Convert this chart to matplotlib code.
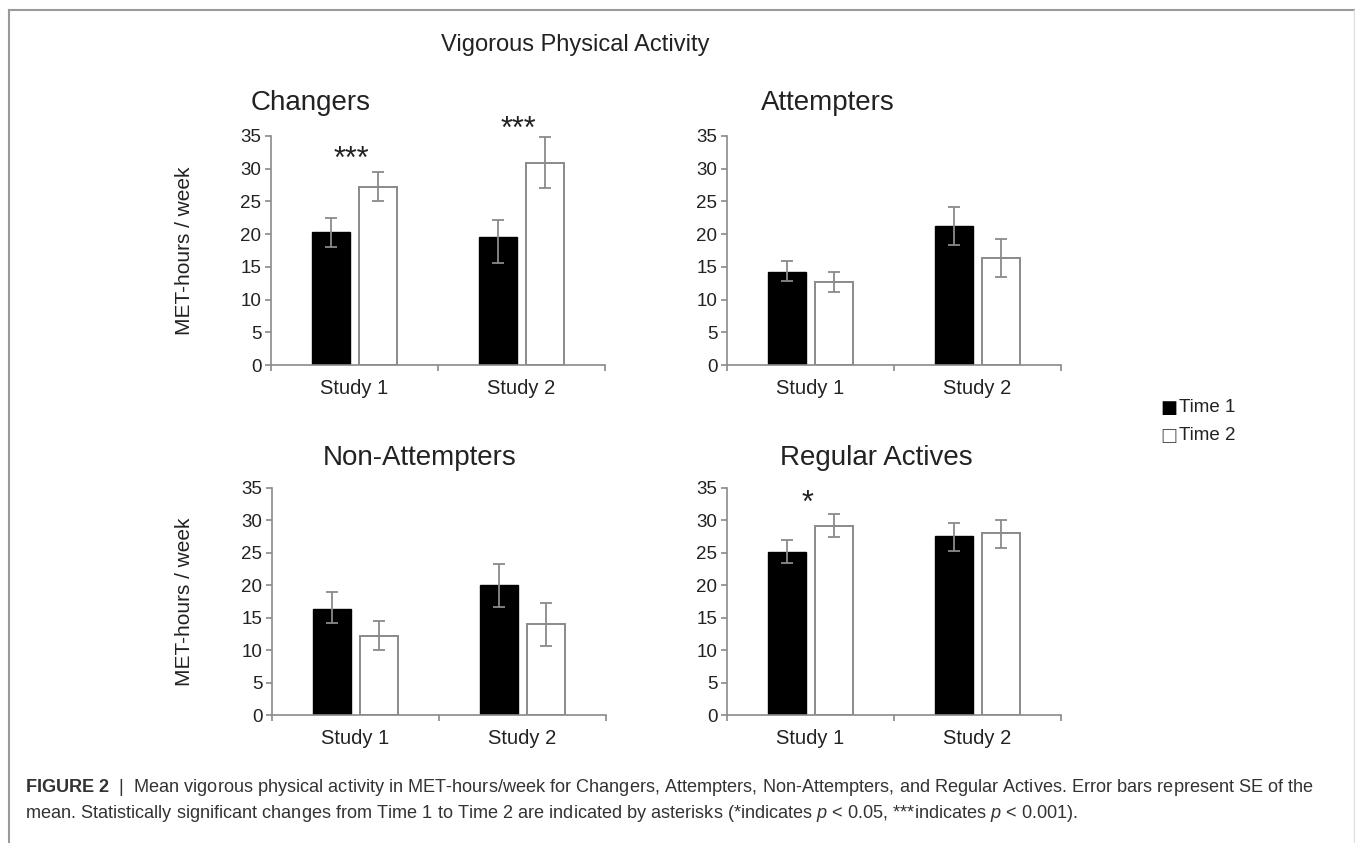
import matplotlib
matplotlib.use("Agg")
import matplotlib.pyplot as plt
from matplotlib.lines import Line2D
import numpy as np

plt.rcParams['font.family'] = ['Liberation Sans', 'DejaVu Sans']
plt.rcParams['mathtext.fontset'] = 'custom'
plt.rcParams['mathtext.rm'] = 'Liberation Sans'
plt.rcParams['mathtext.it'] = 'Liberation Sans:italic'
plt.rcParams['mathtext.bf'] = 'Liberation Sans:bold'

# ---------------- data ----------------
studies = ["Study 1", "Study 2"]
groups = ["Changers", "Attempters", "Non-Attempters", "Regular Actives"]
series_names = ["Time 1", "Time 2"]

changers_t1 = [20.3, 19.5]
changers_t1_err_hi = [22.5, 22.2]
changers_t1_err_lo = [18.0, 15.6]
changers_t2 = [27.25, 30.9]
changers_t2_err_hi = [29.5, 34.9]
changers_t2_err_lo = [25.0, 27.0]

attempters_t1 = [14.25, 21.2]
attempters_t1_err_hi = [15.9, 24.15]
attempters_t1_err_lo = [12.8, 18.3]
attempters_t2 = [12.7, 16.35]
attempters_t2_err_hi = [14.2, 19.2]
attempters_t2_err_lo = [11.2, 13.5]

nonatt_t1 = [16.4, 20.0]
nonatt_t1_err_hi = [18.9, 23.3]
nonatt_t1_err_lo = [14.2, 16.6]
nonatt_t2 = [12.15, 14.0]
nonatt_t2_err_hi = [14.45, 17.3]
nonatt_t2_err_lo = [10.0, 10.7]

regular_t1 = [25.2, 27.6]
regular_t1_err_hi = [27.0, 29.6]
regular_t1_err_lo = [23.5, 25.35]
regular_t2 = [29.1, 28.0]
regular_t2_err_hi = [31.0, 30.1]
regular_t2_err_lo = [27.4, 25.7]

# significance markers: (study index, label, y position of marker)
changers_sig = [(0, "***", 31.3), (1, "***", 35.9)]
attempters_sig = []
nonatt_sig = []
regular_sig = [(0, "*", 32.6)]

yticks = [0, 5, 10, 15, 20, 25, 30, 35]

main_title = "Vigorous Physical Activity"
ylabel = "MET-hours / week"
caption1 = (r"$\bf{FIGURE\ 2}$  |  Mean vigorous physical activity in MET-hours/week for Changers, "
            r"Attempters, Non-Attempters, and Regular Actives. Error bars represent SE of the")
caption2 = (r"mean. Statistically significant changes from Time 1 to Time 2 are indicated by asterisks "
            r"(*indicates $\it{p}$ < 0.05, ***indicates $\it{p}$ < 0.001).")

# ---------------- figure ----------------
W, H = 1355, 843
fig = plt.figure(figsize=(W / 100, H / 100), dpi=100)
fig.patch.set_facecolor("white")


def px_axes(x0, y0, x1, y1):
    return fig.add_axes([x0 / W, 1 - y1 / H, (x1 - x0) / W, (y1 - y0) / H])


GRAY = "#8a8a8a"
panels = [
    ("Changers", (271, 136, 605, 365), changers_t1, changers_t1_err_lo, changers_t1_err_hi,
     changers_t2, changers_t2_err_lo, changers_t2_err_hi, changers_sig, (311, 103), 185),
    ("Attempters", (727, 136, 1061, 365), attempters_t1, attempters_t1_err_lo, attempters_t1_err_hi,
     attempters_t2, attempters_t2_err_lo, attempters_t2_err_hi, attempters_sig, (828, 103), None),
    ("Non-Attempters", (272, 488, 606, 715), nonatt_t1, nonatt_t1_err_lo, nonatt_t1_err_hi,
     nonatt_t2, nonatt_t2_err_lo, nonatt_t2_err_hi, nonatt_sig, (420, 458), 185),
    ("Regular Actives", (727, 488, 1061, 715), regular_t1, regular_t1_err_lo, regular_t1_err_hi,
     regular_t2, regular_t2_err_lo, regular_t2_err_hi, regular_sig, (876, 458), None),
]

bw = 0.228
off = 0.142
x = np.arange(len(studies))

for (title, box, t1, t1lo, t1hi, t2, t2lo, t2hi, sig, tpos, ylx) in panels:
    ax = px_axes(*box)
    t1 = np.array(t1); t2 = np.array(t2)
    e1 = np.array([t1 - np.array(t1lo), np.array(t1hi) - t1])
    e2 = np.array([t2 - np.array(t2lo), np.array(t2hi) - t2])
    ax.bar(x - off, t1, bw, color="black", edgecolor="black", linewidth=1.0, zorder=2)
    ax.bar(x + off, t2, bw, color="white", edgecolor=GRAY, linewidth=1.4, zorder=2)
    ax.errorbar(x - off, t1, yerr=e1, fmt="none", ecolor=GRAY, elinewidth=1.3,
                capsize=4.5, capthick=1.3, zorder=3)
    ax.errorbar(x + off, t2, yerr=e2, fmt="none", ecolor=GRAY, elinewidth=1.3,
                capsize=4.5, capthick=1.3, zorder=3)
    for (si, lab, yy) in sig:
        ax.text(si - 0.02, yy, lab, ha="center", va="center", fontsize=22,
                color="#222222", clip_on=False)
    ax.set_xlim(-0.5, 1.5)
    ax.set_ylim(0, 35)
    ax.set_yticks(yticks)
    ax.set_xticks(x)
    ax.set_xticklabels(studies)
    ax.set_xticks([-0.5, 0.5, 1.5], minor=True)
    ax.tick_params(axis="x", which="major", length=0, pad=10, labelsize=14.5, labelcolor="#222222")
    ax.tick_params(axis="x", which="minor", length=4, width=1.2, color=GRAY, direction="out")
    ax.tick_params(axis="y", length=4, width=1.2, color=GRAY, direction="out", pad=3,
                   labelsize=13.5, labelcolor="#222222")
    for s in ["top", "right"]:
        ax.spines[s].set_visible(False)
    for s in ["left", "bottom"]:
        ax.spines[s].set_color(GRAY)
        ax.spines[s].set_linewidth(1.2)
    ax.set_facecolor("none")
    # subplot title
    fig.text(tpos[0] / W, 1 - tpos[1] / H, title, ha="center", va="center",
             fontsize=20, color="#222222")
    # y label
    if ylx is not None:
        ycen = (box[1] + box[3]) / 2
        fig.text(ylx / W, 1 - ycen / H, ylabel, ha="center", va="center", rotation=90,
                 fontsize=15, color="#222222")

# main title
fig.text(575 / W, 1 - 45 / H, main_title, ha="center", va="center", fontsize=17, color="#222222")

# legend
fig.text(1169 / W, 1 - 408 / H, "\u25A0", ha="center", va="center", fontsize=13,
         color="black", family=["DejaVu Sans"])
fig.text(1169 / W, 1 - 436 / H, "\u25A1", ha="center", va="center", fontsize=13,
         color="#555555", family=["DejaVu Sans"])
fig.text(1179 / W, 1 - 408 / H, series_names[0], ha="left", va="center", fontsize=13.5, color="#222222")
fig.text(1179 / W, 1 - 436 / H, series_names[1], ha="left", va="center", fontsize=13.5, color="#222222")

# caption
fig.text(25 / W, 1 - 787 / H, caption1, ha="left", va="center", fontsize=13.1, color="#333333")
fig.text(25 / W, 1 - 813 / H, caption2, ha="left", va="center", fontsize=13.1, color="#333333")

# frame lines
fig.add_artist(Line2D([9 / W, 1], [1 - 10 / H, 1 - 10 / H], transform=fig.transFigure,
                      color="#9a9a9a", linewidth=1.5))
fig.add_artist(Line2D([9 / W, 9 / W], [0, 1 - 10 / H], transform=fig.transFigure,
                      color="#9a9a9a", linewidth=1.5))
fig.add_artist(Line2D([1354 / W, 1354 / W], [0, 1 - 10 / H], transform=fig.transFigure,
                      color="#dddddd", linewidth=1.0))

fig.savefig("out.png", dpi=100, facecolor="white")
